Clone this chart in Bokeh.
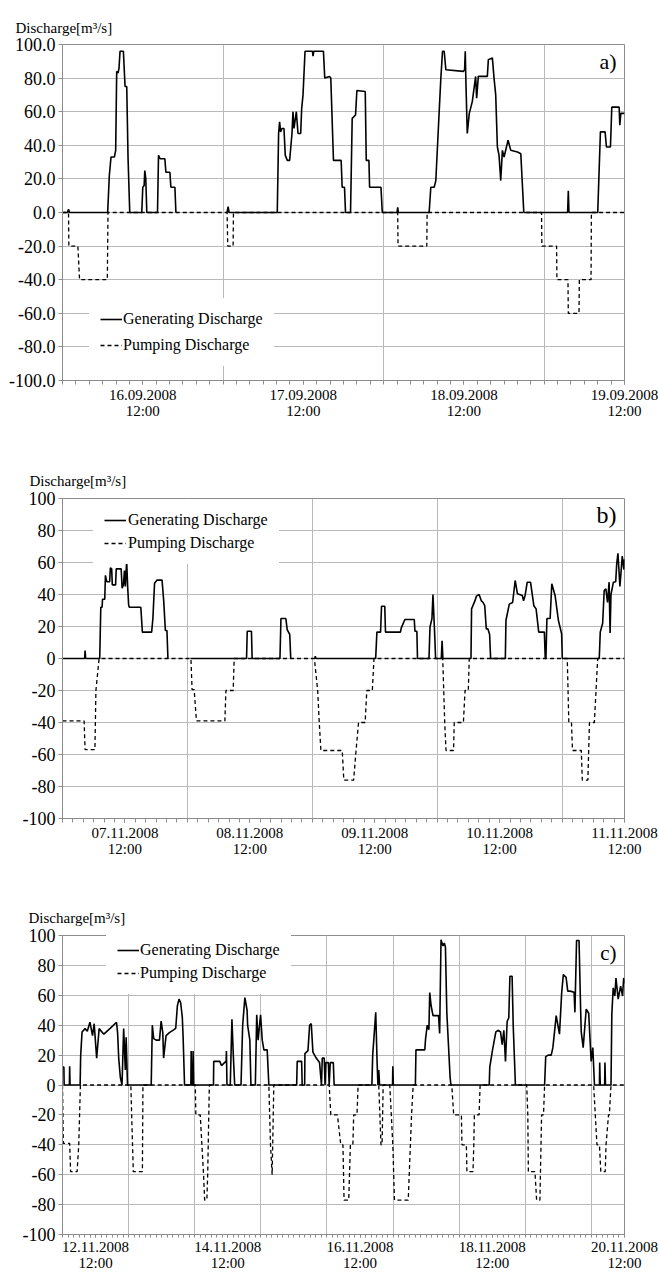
from bokeh.plotting import figure
from bokeh.models import FixedTicker, Legend, LegendItem, Label, Range1d
from bokeh.layouts import column
from bokeh.embed import file_html
from bokeh.resources import INLINE

NAN = float("nan")
FONT = "Liberation Serif, Times New Roman, serif"
Y_TITLE = "Discharge[m³/s]"
LEG_GEN = "Generating Discharge"
LEG_PUMP = "Pumping Discharge"

# ---------------- Panel a) hours after 16.09.2008 00:00 ----------------
a_gen = [(0, 0), (0.75, 0), (0.9, 2), (1.05, 0), (6.75, 0), (7.0, 22), (7.25, 33), (7.75, 33), (7.95, 37),
         (8.1, 84), (8.3, 83), (8.45, 86), (8.6, 96), (9.1, 96), (9.35, 75), (9.6, 75), (9.8, 32), (10.05, 0),
         (11.85, 0), (12.0, 15), (12.2, 16), (12.3, 25), (12.45, 20), (12.6, 0), (14.2, 0), (14.35, 34),
         (14.6, 32), (15.3, 32), (15.45, 24), (16.05, 24), (16.2, 15), (16.8, 15), (16.95, 0), (17.0, NAN),
         (24.6, 0), (24.75, 3.5), (24.9, 0), (32.1, 0), (32.3, 47), (32.45, 54), (32.6, 48), (32.8, 50),
         (33.1, 50), (33.3, 34), (33.6, 31), (33.95, 31), (34.3, 47), (34.45, 60), (34.6, 50), (34.95, 60),
         (35.2, 47), (35.6, 47), (35.75, 62), (35.95, 70), (36.25, 96), (37.35, 96), (37.45, 93), (37.55, 96),
         (39.0, 96), (39.2, 80), (39.9, 81), (40.1, 80), (40.5, 31), (41.65, 31), (41.8, 15), (42.15, 15),
         (42.3, 0), (43.05, 0), (43.3, 56), (43.8, 58), (44.0, 72.6), (45.25, 72), (45.4, 31), (45.8, 31),
         (45.9, 15), (47.6, 15), (47.8, 0), (50.0, 0), (50.1, 3), (50.2, 0), (54.8, 0), (55.05, 15),
         (55.55, 15), (55.8, 19), (56.3, 60), (56.55, 80), (56.8, 96), (57.05, 96), (57.3, 85), (59.9, 84),
         (60.1, 85), (60.2, 96), (60.3, 77), (60.5, 47), (60.8, 59), (61.25, 66), (61.75, 81), (61.9, 68),
         (62.15, 81), (63.5, 81), (63.65, 91), (64.25, 92), (64.5, 80), (64.75, 70), (65.0, 39), (65.25, 34),
         (65.5, 19), (65.75, 37), (66.0, 33), (66.6, 43), (67.0, 37), (68.0, 36), (68.5, 35), (68.95, 0),
         (75.5, 0), (75.6, 13), (75.7, 0), (80.0, 0), (80.4, 48), (81.1, 48), (81.3, 39), (81.9, 39),
         (82.1, 62.7), (83.2, 62.7), (83.3, 52), (83.45, 59), (84.0, 59)]
a_pump = [(0, 0), (0.9, 0), (0.95, -20), (2.3, -20), (2.55, -40), (6.7, -40), (6.8, 0), (24.6, 0),
          (24.7, -20), (25.5, -20), (25.55, 0), (50.1, 0), (50.15, -20), (54.45, -20), (54.5, 0), (71.6, 0),
          (71.65, -20), (73.85, -20), (73.9, -40), (75.55, -40), (75.6, -60), (77.2, -60), (77.25, -40),
          (79.0, -40), (79.05, 0), (84, 0)]
a_tick_h = [12, 36, 60, 84]
a_tick_labels = ["16.09.2008\n12:00", "17.09.2008\n12:00", "18.09.2008\n12:00", "19.09.2008\n12:00"]
a_grid_h = [24, 48, 72]
a_y_ticks = [-100, -80, -60, -40, -20, 0, 20, 40, 60, 80, 100]
a_y_labels = ["-100.0", "-80.0", "-60.0", "-40.0", "-20.0", "0.0", "20.0", "40.0", "60.0", "80.0", "100.0"]

# ---------------- Panel b) hours after 07.11.2008 00:00 ----------------
b_gen = [(0, 0), (4.25, 0), (4.34, 5), (4.45, 0), (7.15, 0), (7.36, 32), (7.61, 32), (7.69, 37), (8.12, 37),
         (8.25, 52), (8.5, 48), (9.06, 48), (9.2, 56.7), (9.45, 56), (9.57, 46), (10.2, 46), (10.33, 56),
         (11.27, 56), (11.46, 44), (11.71, 46), (11.9, 55), (12.08, 45), (12.33, 61), (12.52, 45),
         (12.71, 33.5), (12.84, 32), (15.05, 32), (15.35, 16.5), (17.13, 16.5), (17.37, 25), (17.69, 47),
         (18.18, 49), (19.13, 49), (19.45, 36), (19.77, 17.5), (20.07, 17.5), (20.26, 0), (20.3, NAN),
         (24.6, 0), (35.37, 0), (35.5, 17), (36.31, 17), (36.44, 0), (41.79, 0), (41.98, 25), (42.92, 25),
         (43.18, 18), (43.67, 15), (43.86, 0), (43.9, NAN), (48.4, 0), (48.5, 0), (48.58, 1.5), (48.7, 0),
         (60.18, 0), (60.42, 16.5), (61.12, 16.5), (61.31, 32.7), (61.93, 32.7), (62.07, 16.5), (64.95, 16.5),
         (65.09, 19), (65.58, 22.7), (65.8, 24.4), (67.6, 24.4), (67.73, 17), (68.1, 17), (68.22, 0),
         (70.43, 0), (70.62, 19.6), (71.0, 25), (71.19, 40), (71.51, 16), (71.7, 0), (72.8, 0), (72.94, 11),
         (73.1, 0), (78.5, 0), (78.61, 31), (79.25, 36), (79.55, 39), (80.06, 40), (80.5, 36), (80.82, 35),
         (81.14, 33), (81.44, 18.5), (81.76, 18.5), (82.08, 15), (82.27, 0), (85.1, 0), (85.22, 23.75),
         (85.86, 34), (86.5, 35), (86.99, 48.75), (87.43, 40.4), (88.37, 39.4), (88.6, 36), (88.9, 39.4),
         (89.31, 47.7), (89.94, 47.7), (90.26, 40.4), (90.58, 33), (91.01, 31), (91.52, 16.5), (92.6, 16.5),
         (92.77, 0), (92.9, 0), (93.09, 25), (93.71, 25), (94.03, 46.7), (94.66, 39.4), (95.3, 23.75),
         (95.92, 15.4), (96.05, 0), (103.15, 0), (103.34, 16.5), (103.8, 22), (104.1, 42.5), (104.42, 43.5),
         (104.74, 35), (105.04, 47.7), (105.23, 16), (105.4, 40), (105.87, 47.7), (106.31, 48), (106.5, 59),
         (106.74, 65.8), (107.12, 45), (107.57, 64), (107.88, 55.6), (108, 62)]
b_pump = [(0, -39), (4.15, -39), (4.34, -57), (6.23, -57), (6.42, -20), (7.04, 0), (24.68, 0),
          (24.9, -19.4), (25.3, -19.4), (25.74, -39), (31.21, -39), (31.4, -20), (32.8, -20), (32.99, 0),
          (48.4, 0), (49.04, -20), (49.34, -40), (49.66, -57.5), (53.76, -57.5), (54.06, -76), (55.95, -76),
          (56.4, -58), (56.89, -40), (58.16, -40), (58.48, -20), (59.54, -20), (59.86, 0), (73.07, 0),
          (73.45, -40), (73.7, -57.5), (75.15, -57.5), (75.28, -40), (77.04, -40), (77.36, -20),
          (77.98, -20), (78.17, 0), (97.0, 0), (97.3, -40), (97.81, -40), (98.0, -57.5), (99.7, -57.5),
          (99.89, -76), (100.96, -76), (101.27, -40), (102.21, -40), (102.85, 0), (108, 0)]
b_tick_h = [12, 36, 60, 84, 108]
b_tick_labels = ["07.11.2008\n12:00", "08.11.2008\n12:00", "09.11.2008\n12:00", "10.11.2008\n12:00",
                 "11.11.2008\n12:00"]
b_grid_h = [24, 48, 72, 96]
bc_y_ticks = [-100, -80, -60, -40, -20, 0, 20, 40, 60, 80, 100]
bc_y_labels = ["-100", "-80", "-60", "-40", "-20", "0", "20", "40", "60", "80", "100"]

# ---------------- Panel c) hours after 12.11.2008 00:00 ----------------
c_gen = [(0, 12), (0.5, 12), (0.6, 0), (2.5, 0), (2.6, 12.5), (2.75, 0), (6.4, 0), (6.6, 20), (7.1, 35.5),
         (8.2, 37.7), (9.0, 36), (9.96, 42), (10.9, 33), (11.5, 41), (12.4, 18), (13.3, 37.7), (15.0, 34),
         (17.4, 38), (19.6, 42), (20.0, 35), (20.4, 18), (21.0, 5), (21.6, 0), (22.2, 37.7), (22.8, 10),
         (23.1, 32), (23.6, 0), (32.2, 0), (32.6, 40), (33.1, 31), (34.0, 30), (35.2, 30), (35.8, 42.7),
         (36.4, 35), (36.7, 18), (37.6, 33), (38.8, 35), (40.5, 37), (41.1, 38), (41.7, 53), (42.3, 57.4),
         (42.9, 55), (43.5, 45), (43.8, 31), (44.3, 0), (46.6, 0), (46.7, 22.8), (46.9, 0), (47.3, 0),
         (47.4, 22.8), (47.6, 0), (54.8, 0), (54.9, 15.8), (57.1, 15.8), (57.7, 13), (59.4, 16), (59.5, 22.8),
         (59.7, 0), (60.9, 0), (61.5, 44), (62.0, 20), (62.5, 0), (64.8, 0), (65.4, 40), (66.2, 58.5),
         (67.0, 50), (67.2, 40), (68.0, 30), (68.4, 0), (70.0, 0), (70.5, 47), (71.0, 30), (71.9, 47),
         (72.5, 30), (73.1, 23.5), (74.3, 23.5), (74.9, 0), (85.0, 0), (85.2, 15.8), (86.8, 15.8), (87.0, 0),
         (87.9, 0), (88.0, 21), (89.1, 23), (89.7, 40), (90.3, 41), (90.9, 22), (92.1, 18), (93.3, 15),
         (94.0, 0), (94.3, 18), (95.0, 18), (95.3, 0), (95.6, 15), (96.5, 15), (96.8, 0), (97.2, 15),
         (98.3, 15), (98.6, 0), (112.3, 0), (112.6, 20), (113.7, 48.6), (114.2, 15), (114.5, 0), (114.8, 10),
         (115.1, 0), (119.8, 0), (119.9, 12.6), (120.1, 0), (128.1, 0), (128.3, 23.5), (131.5, 23.5),
         (131.8, 31), (132.4, 40), (133.0, 37), (133.3, 61.8), (133.8, 53), (134.5, 46.4), (136.5, 46.4),
         (136.9, 34.4), (137.4, 97.2), (138.1, 93), (138.6, 95), (139.0, 92.3), (139.5, 48.6), (140.1, 26.8),
         (140.7, 5), (141.0, 0), (154.9, 0), (155.1, 12), (156.1, 23.5), (157.3, 35.5), (158.2, 36.6),
         (159.0, 35.5), (159.6, 27), (160.2, 36.6), (160.8, 15.8), (161.4, 42.5), (162.0, 45), (162.4, 72.7),
         (163.2, 72.7), (163.6, 40), (164.0, 20), (164.4, 0), (175.0, 0), (175.4, 19), (176.3, 20),
         (177.4, 20), (178.0, 25), (178.6, 35.5), (179.2, 46.4), (180.4, 34), (181.2, 61.8), (181.8, 73.8),
         (182.8, 72), (183.4, 62.8), (184.3, 62.8), (185.7, 62), (186.0, 48.6), (186.6, 96.7), (187.5, 96.7),
         (188.1, 48.6), (188.3, 35.5), (189.0, 25), (190.1, 50.8), (191.0, 48), (191.9, 15.8), (192.5, 25),
         (193.1, 0), (194.9, 0), (195.0, 15), (195.2, 0), (196.8, 0), (196.9, 15), (197.1, 0), (199.1, 0),
         (199.4, 47.5), (199.9, 65), (200.5, 59.5), (200.9, 71.6), (201.7, 57.4), (202.6, 66.1),
         (203.3, 59.5), (203.7, 71.6), (204, 68)]
c_pump = [(0, 0), (0.3, -39), (2.6, -39), (2.95, -58), (5.3, -58), (5.9, -40), (6.5, 0), (24.8, 0),
          (25.7, -58), (29.0, -58), (29.2, 0), (48.2, 0), (48.4, -20), (50.0, -20), (50.6, -40), (51.2, -60),
          (51.6, -77), (52.4, -77), (52.7, -60), (53.3, 0), (74.9, 0), (75.5, -40), (76.1, -60), (76.7, 0),
          (96.8, 0), (97.4, -20), (99.8, -20), (101.0, -40), (101.8, -40), (102.2, -77), (103.9, -77),
          (104.5, -40), (105.4, -40), (105.7, -20), (106.9, -20), (107.3, 0), (114.8, 0), (115.2, -20),
          (115.6, -40), (116.0, -40), (116.4, 0), (118.8, 0), (119.9, -40), (120.5, -77), (125.5, -77),
          (126.7, -20), (127.3, 0), (141.3, 0), (142.0, -20), (144.8, -20), (145.0, -40), (146.6, -40),
          (146.8, -58), (149.0, -58), (149.3, -40), (149.5, -20), (151.2, -20), (151.6, 0), (168.5, 0),
          (168.9, -20), (169.1, -58), (171.5, -58), (172.1, -77), (173.3, -77), (173.9, -20), (174.6, -20),
          (175.0, 0), (192.8, 0), (193.4, -20), (194.0, -40), (194.9, -40), (195.4, -58), (197.0, -58),
          (197.3, -40), (198.2, -20), (198.5, -20), (199.1, 0), (204, 0)]
c_tick_h = [12, 60, 108, 156, 204]
c_tick_labels = ["12.11.2008\n12:00", "14.11.2008\n12:00", "16.11.2008\n12:00", "18.11.2008\n12:00",
                 "20.11.2008\n12:00"]
c_grid_h = [24, 48, 72, 96, 120, 144, 168, 192]

GRID = "#b9b9b9"
FRAME = "#8c8c8c"


def build(gen, pump, xmax, ticks, labels, grids, yticks, ylabels, tag, tag_q, tag_size,
          height, bl, br, bt, bb, t_off, t_stand, leg_xy, leg_spacing, leg_standoff, tick_len, x_standoff):
    p = figure(width=659, height=height, x_range=Range1d(0, xmax), y_range=Range1d(-100, 100),
               output_backend="svg", toolbar_location=None,
               min_border_left=bl, min_border_right=br, min_border_top=bt, min_border_bottom=bb)
    p.background_fill_color = "white"
    p.border_fill_color = "white"
    p.outline_line_color = FRAME
    p.outline_line_width = 1

    p.title.text = Y_TITLE
    p.title.align = "left"
    p.title.offset = t_off
    p.title.standoff = t_stand
    p.title.text_font = FONT
    p.title.text_font_size = "15px"
    p.title.text_font_style = "normal"
    p.title.text_color = "black"

    rp = p.line([t for t, _ in pump], [q for _, q in pump], line_color="black", line_width=1.3,
                line_dash="4 3")
    rg = p.line([t for t, _ in gen], [q for _, q in gen], line_color="black", line_width=1.6)

    # x axis
    xa = p.xaxis[0]
    xa.ticker = FixedTicker(ticks=ticks, minor_ticks=list(range(0, xmax + 1, 2)))
    xa.major_label_overrides = {t: l for t, l in zip(ticks, labels)}
    xa.major_label_text_font = FONT
    xa.major_label_text_font_size = "15px"
    xa.major_label_text_color = "black"
    xa.major_label_text_line_height = 1.05
    xa.major_label_standoff = x_standoff
    xa.axis_line_color = FRAME
    xa.major_tick_line_color = FRAME
    xa.minor_tick_line_color = FRAME
    xa.major_tick_out = tick_len
    xa.major_tick_in = 0
    xa.minor_tick_out = tick_len
    xa.minor_tick_in = 0

    # y axis
    ya = p.yaxis[0]
    ya.ticker = FixedTicker(ticks=yticks, minor_ticks=[])
    ya.major_label_overrides = {t: l for t, l in zip(yticks, ylabels)}
    ya.major_label_text_font = FONT
    ya.major_label_text_font_size = "18px"
    ya.major_label_text_color = "black"
    ya.major_label_standoff = 3
    ya.axis_line_color = FRAME
    ya.major_tick_line_color = FRAME
    ya.major_tick_out = 4
    ya.major_tick_in = 0
    ya.minor_tick_line_color = None

    p.xgrid.ticker = FixedTicker(ticks=grids)
    p.xgrid.grid_line_color = GRID
    p.xgrid.grid_line_width = 1
    p.ygrid.grid_line_color = GRID
    p.ygrid.grid_line_width = 1

    legend = Legend(items=[LegendItem(label=LEG_GEN, renderers=[rg]),
                           LegendItem(label=LEG_PUMP, renderers=[rp])],
                    location=leg_xy, orientation="vertical",
                    background_fill_color="white", background_fill_alpha=1.0,
                    border_line_color="white", border_line_width=1, margin=0, padding=10,
                    spacing=leg_spacing, label_standoff=leg_standoff,
                    glyph_width=22, glyph_height=20, label_height=20,
                    label_text_font=FONT, label_text_font_size="16px", label_text_color="black")
    p.add_layout(legend)

    p.add_layout(Label(x=xmax, y=tag_q, x_offset=-8, text=tag, text_align="right", text_baseline="middle",
                       text_font=FONT, text_font_size=tag_size, text_color="black"))
    return p


pa = build(a_gen, a_pump, 84, a_tick_h, a_tick_labels, a_grid_h, a_y_ticks, a_y_labels, "a)", 90, "22px",
           height=424, bl=62, br=33, bt=44, bb=44, t_off=-47, t_stand=17, leg_xy=(27, 14),
           leg_spacing=6, leg_standoff=1, tick_len=4, x_standoff=2)
pb = build(b_gen, b_pump, 108, b_tick_h, b_tick_labels, b_grid_h, bc_y_ticks, bc_y_labels, "b)", 90, "24px",
           height=438, bl=52, br=35, bt=74, bb=44, t_off=-33, t_stand=19, leg_xy=(31, 254),
           leg_spacing=3, leg_standoff=2, tick_len=4, x_standoff=2)
pc = build(c_gen, c_pump, 204, c_tick_h, c_tick_labels, c_grid_h, bc_y_ticks, bc_y_labels, "c)", 88, "21px",
           height=412, bl=51, br=34, bt=73, bb=34, t_off=-34, t_stand=20, leg_xy=(44, 240),
           leg_spacing=3, leg_standoff=1, tick_len=3, x_standoff=1)

layout = column(pa, pb, pc, spacing=0)
open("out.html", "w").write(file_html(layout, INLINE))
